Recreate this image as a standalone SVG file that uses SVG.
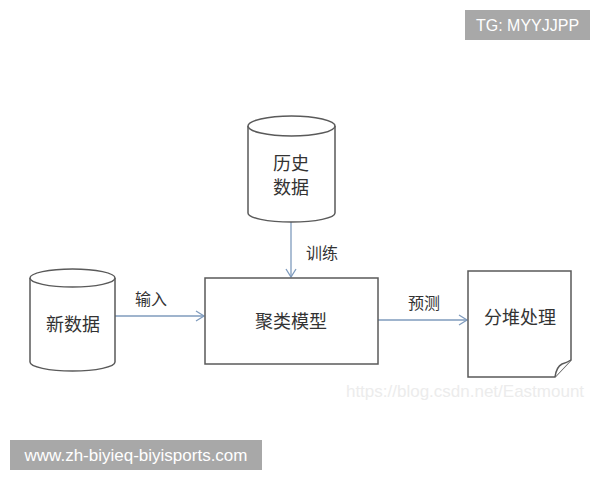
<svg xmlns="http://www.w3.org/2000/svg" width="600" height="480" viewBox="0 0 600 480">
<defs>
<style>
.shape{fill:#fff;stroke:#5a5a5a;stroke-width:1.5}
.edge{fill:none;stroke:#7f9bbd;stroke-width:1.3}
.t{font-family:"Noto Sans CJK SC","Liberation Sans",sans-serif;font-size:18px;fill:#333;text-anchor:middle}
.lbl{font-family:"Noto Sans CJK SC","Liberation Sans",sans-serif;font-size:16px;fill:#333;text-anchor:middle}
.tag{fill:#a8a8a8}
.tagt{font-family:"Liberation Sans","Noto Sans",sans-serif;fill:#fff}
</style>
<marker id="ah" markerWidth="12" markerHeight="12" refX="10" refY="6" orient="auto" markerUnits="userSpaceOnUse">
<path d="M2,1 L10,6 L2,11" fill="none" stroke="#7f9bbd" stroke-width="1.3"/>
</marker>
</defs>
<rect width="600" height="480" fill="#fff"/>
<g id="edges">
<line class="edge" x1="291" y1="222" x2="291" y2="277" marker-end="url(#ah)"/>
<text class="lbl" x="322" y="259">训练</text>
<line class="edge" x1="115" y1="316" x2="204" y2="316" marker-end="url(#ah)"/>
<text class="lbl" x="151" y="305">输入</text>
<line class="edge" x1="378" y1="320" x2="467" y2="320" marker-end="url(#ah)"/>
<text class="lbl" x="424" y="309">预测</text>
</g>
<g id="history">
<path class="shape" d="M248,126 L248,213 A43.5,9 0 0 0 335,213 L335,126"/>
<ellipse class="shape" cx="291.5" cy="126" rx="43.5" ry="10"/>
<text class="t" x="291" y="170">历史</text>
<text class="t" x="291" y="194">数据</text>
</g>
<g id="newdata">
<path class="shape" d="M30,278 L30,362 A42.5,9 0 0 0 115,362 L115,278"/>
<ellipse class="shape" cx="72.5" cy="278" rx="42.5" ry="9"/>
<text class="t" x="73" y="331">新数据</text>
</g>
<g id="model">
<rect class="shape" x="205" y="278" width="173" height="86"/>
<text class="t" x="291" y="328">聚类模型</text>
</g>
<g id="process">
<path class="shape" d="M468,271 L571,271 L571,360 L555,377 L468,377 Z"/>
<path class="shape" d="M555,377 C556,370 558,366 562,364 C565,363 568,362 571,360" fill="#fff"/>
<text class="t" x="520" y="324">分堆处理</text>
</g>
<text x="465" y="397" font-family="Liberation Sans,sans-serif" font-size="17" fill="#ececec" text-anchor="middle">https://blog.csdn.net/Eastmount</text>
<rect class="tag" x="465" y="10" width="125" height="30"/>
<text class="tagt" x="527.5" y="31" font-size="16" text-anchor="middle">TG: MYYJJPP</text>
<rect class="tag" x="10" y="440" width="252" height="30"/>
<text class="tagt" x="136" y="461" font-size="17" text-anchor="middle">www.zh-biyieq-biyisports.com</text>
</svg>
